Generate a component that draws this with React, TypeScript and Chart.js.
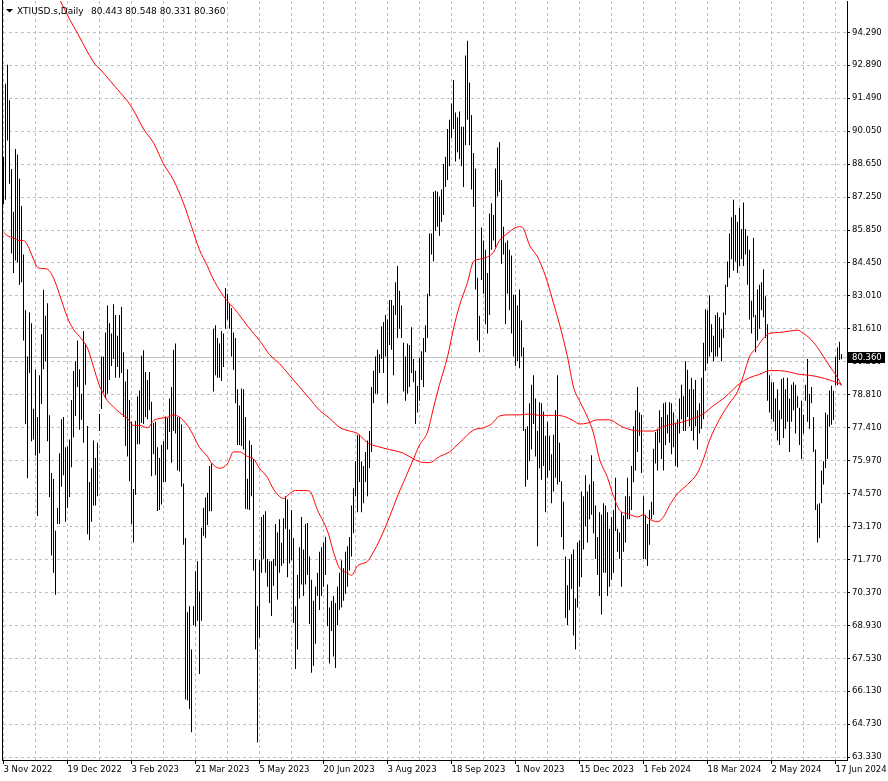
import React, { useEffect, useRef } from 'react';
import { Chart, registerables } from 'chart.js';

Chart.register(...registerables);

const SYMBOL_TITLE = 'XTIUSD.s,Daily';
const OHLC_TEXT = '80.443 80.548 80.331 80.360';
const LAST_PRICE = 80.36;
const LAST_PRICE_LABEL = '80.360';

const DATE_LABELS = ['3 Nov 2022', '19 Dec 2022', '3 Feb 2023', '21 Mar 2023', '5 May 2023', '20 Jun 2023', '3 Aug 2023', '18 Sep 2023', '1 Nov 2023', '15 Dec 2023', '1 Feb 2024', '18 Mar 2024', '2 May 2024', '17 Jun 2024'];
const BARS_PER_DATE_LABEL = 32;
const BARS_PER_GRID = 16;

const PRICE_LABELS = ['94.290', '92.890', '91.490', '90.050', '88.650', '87.250', '85.850', '84.450', '83.010', '81.610', '80.210', '78.810', '77.410', '75.970', '74.570', '73.170', '71.770', '70.370', '68.930', '67.530', '66.130', '64.730', '63.330'];
const Y_MIN = 63.21;
const Y_MAX = 95.627;
const X_MIN = -0.25;
const X_MAX = 421.75;

const HIGHS = [
  88.97, 92.09, 92.9, 91.39, 88.45, 86.63, 89.31, 89.07, 88.04, 86.87,
  84.8, 82.42, 80.44, 82.32, 81.86, 78.21, 79.88, 77.86, 79.64, 81.39,
  83.29, 82.18, 82.72, 77.93, 75.47, 75.22, 73.0, 73.98, 76.31, 77.76,
  77.86, 76.57, 76.6, 76.9, 78.59, 79.82, 80.24, 81.13, 79.9, 78.85,
  81.53, 81.0, 77.48, 75.08, 75.67, 76.86, 76.11, 76.76, 77.99, 80.44,
  80.44, 81.47, 82.62, 81.86, 81.43, 82.68, 82.22, 81.33, 82.22, 82.56,
  80.63, 79.38, 79.9, 78.59, 77.66, 74.78, 77.7, 78.73, 78.99, 80.48,
  80.71, 79.78, 79.44, 79.78, 78.51, 77.6, 77.66, 76.57, 76.11, 76.66,
  76.82, 77.88, 77.82, 78.65, 79.14, 80.73, 81.0, 77.86, 77.86, 77.54,
  75.02, 72.69, 69.52, 69.78, 67.93, 69.78, 71.27, 71.7, 70.41, 73.13,
  73.98, 74.42, 74.62, 75.77, 75.87, 81.63, 81.78, 81.23, 81.0, 81.53,
  81.43, 83.37, 83.12, 82.72, 82.52, 81.47, 81.23, 79.04, 78.35, 79.08,
  79.04, 77.86, 75.22, 76.86, 76.66, 76.07, 71.8, 69.78, 71.74, 73.59,
  73.69, 73.83, 71.8, 71.7, 71.7, 71.8, 73.29, 72.93, 73.49, 72.5,
  73.53, 74.48, 74.34, 73.05, 73.89, 72.69, 69.78, 71.11, 72.3, 73.59,
  72.2, 73.29, 73.33, 71.9, 70.91, 70.01, 70.61, 71.21, 72.1, 72.3,
  72.5, 72.73, 70.71, 69.72, 70.01, 70.21, 69.92, 70.61, 71.21, 71.74,
  71.4, 72.1, 72.34, 72.73, 74.08, 74.82, 75.97, 77.1, 77.1, 75.97,
  75.77, 76.37, 76.86, 77.26, 79.14, 79.84, 80.44, 80.73, 80.54, 81.73,
  81.92, 82.22, 82.02, 82.86, 82.86, 82.62, 83.61, 84.31, 83.25, 82.62,
  81.03, 80.44, 81.0, 80.93, 81.69, 80.34, 79.84, 79.18, 80.38, 80.67,
  81.23, 81.78, 83.12, 85.7, 85.7, 87.48, 87.52, 87.48, 87.28, 87.58,
  88.67, 88.97, 90.16, 90.56, 91.25, 92.25, 90.86, 90.66, 90.91, 90.26,
  90.26, 93.3, 93.93, 92.15, 90.76, 89.13, 88.47, 83.81, 82.18, 85.95,
  85.4, 85.0, 84.01, 86.55, 86.99, 86.49, 88.47, 89.37, 89.61, 87.98,
  85.99, 85.3, 85.4, 85.0, 84.76, 83.08, 83.08, 82.62, 83.31, 81.98,
  80.83, 77.36, 77.46, 78.45, 79.24, 79.64, 78.65, 77.26, 78.49, 78.45,
  78.09, 77.06, 77.66, 77.06, 76.27, 77.1, 78.15, 79.64, 76.76, 75.12,
  74.24, 71.9, 70.67, 71.8, 72.0, 72.2, 70.11, 72.5, 72.6, 74.68,
  74.48, 75.37, 74.68, 74.98, 76.23, 75.12, 74.08, 72.73, 73.79, 73.69,
  74.18, 74.08, 73.79, 73.09, 73.59, 73.89, 75.27, 73.09, 72.93, 73.79,
  73.65, 74.48, 75.27, 74.48, 75.77, 77.46, 78.15, 79.14, 78.05, 77.96,
  74.48, 73.69, 73.29, 73.89, 74.24, 76.5, 77.22, 77.36, 78.15, 77.86,
  78.45, 78.49, 77.96, 78.49, 78.45, 78.05, 77.56, 77.76, 78.65, 79.24,
  78.75, 80.24, 79.88, 79.04, 79.54, 79.04, 79.44, 78.15, 78.45, 79.54,
  81.03, 82.46, 82.42, 83.06, 81.82, 81.33, 82.22, 82.32, 82.12, 81.63,
  82.32, 83.51, 84.5, 85.7, 86.39, 87.14, 86.49, 86.19, 86.79, 85.89,
  87.02, 85.89, 85.6, 85.0, 82.82, 85.5, 82.22, 83.31, 83.51, 83.61,
  84.17, 83.02, 81.82, 79.64, 79.34, 79.34, 78.65, 79.04, 78.15, 79.48,
  79.54, 79.04, 79.54, 78.65, 79.24, 79.34, 79.24, 78.75, 78.25, 78.55,
  77.96, 79.24, 80.34, 78.85, 79.14, 77.86, 76.47, 74.12, 74.18, 75.57,
  75.97, 78.05, 77.96, 78.99, 79.19, 78.98, 80.43, 80.83, 81.07, 80.55
];

const LOWS = [
  86.95, 87.14, 89.67, 87.82, 84.84, 84.01, 84.54, 84.46, 83.51, 83.61,
  81.13, 77.56, 75.24, 79.74, 76.82, 76.9, 76.21, 73.63, 76.31, 78.41,
  79.9, 80.24, 76.82, 74.44, 71.94, 71.21, 70.27, 73.29, 73.29, 74.88,
  75.37, 73.39, 73.98, 74.44, 75.71, 77.0, 77.9, 79.14, 77.32, 77.74,
  76.76, 79.24, 72.85, 72.6, 73.39, 74.08, 74.08, 74.48, 77.26, 78.2,
  78.91, 78.65, 78.85, 79.44, 80.04, 80.34, 79.54, 80.0, 79.54, 79.74,
  77.86, 76.62, 76.17, 75.12, 73.29, 72.5, 74.54, 76.7, 76.7, 77.6,
  77.56, 77.86, 77.76, 78.15, 75.33, 76.27, 75.37, 73.85, 73.89, 74.12,
  75.08, 75.08, 76.47, 77.22, 75.91, 77.26, 77.16, 75.57, 75.53, 74.88,
  72.4, 65.79, 65.75, 65.39, 64.4, 68.96, 68.92, 69.16, 66.88, 69.16,
  72.79, 72.69, 73.25, 73.83, 73.83, 78.95, 79.64, 79.54, 79.54, 79.4,
  80.0, 81.63, 82.02, 81.63, 80.44, 79.88, 78.45, 76.66, 76.66, 76.62,
  76.47, 73.94, 73.92, 73.89, 74.48, 71.3, 67.93, 63.96, 68.43, 71.21,
  71.8, 71.21, 70.61, 69.92, 69.36, 70.65, 71.5, 70.07, 71.21, 71.5,
  71.6, 73.09, 71.01, 71.6, 71.74, 69.06, 67.1, 67.93, 70.11, 70.71,
  70.21, 70.71, 71.11, 69.02, 66.94, 67.24, 68.17, 70.21, 69.62, 70.21,
  70.61, 71.11, 68.92, 67.33, 68.72, 67.63, 67.14, 68.96, 69.62, 69.72,
  70.01, 70.31, 70.61, 71.3, 71.9, 72.89, 74.48, 73.79, 75.08, 73.79,
  74.18, 75.08, 74.48, 75.67, 76.37, 78.45, 78.85, 78.85, 79.74, 80.34,
  79.74, 80.44, 78.45, 80.93, 80.73, 79.64, 82.22, 81.23, 81.63, 81.23,
  78.95, 78.55, 78.85, 79.14, 79.74, 79.34, 77.56, 78.05, 78.55, 79.44,
  79.14, 80.63, 81.23, 83.02, 84.8, 84.5, 85.8, 85.99, 85.6, 86.19,
  86.49, 87.68, 87.98, 88.57, 89.76, 90.16, 88.77, 89.17, 88.87, 88.57,
  87.68, 89.47, 90.56, 89.47, 87.58, 86.83, 83.31, 81.13, 80.63, 83.71,
  83.12, 81.82, 81.43, 82.22, 85.0, 85.4, 85.1, 87.28, 87.48, 84.4,
  84.8, 81.82, 83.12, 82.42, 81.43, 80.44, 80.04, 80.24, 79.94, 80.44,
  77.26, 74.88, 75.18, 75.97, 76.47, 77.56, 76.17, 72.34, 75.67, 75.18,
  75.77, 73.79, 75.27, 75.57, 74.18, 74.68, 75.27, 74.98, 75.08, 72.73,
  72.2, 69.28, 68.98, 69.62, 70.51, 68.53, 67.93, 69.72, 70.61, 71.01,
  72.2, 73.19, 72.5, 73.49, 73.69, 72.89, 71.8, 71.11, 70.21, 69.42,
  71.21, 71.21, 70.21, 70.61, 70.91, 71.21, 72.99, 72.1, 71.8, 70.61,
  72.1, 72.5, 73.49, 73.49, 73.89, 75.07, 75.57, 76.37, 77.06, 75.47,
  71.8, 71.8, 71.5, 72.4, 73.49, 73.69, 75.87, 75.57, 76.76, 76.07,
  75.57, 76.66, 77.16, 76.76, 76.27, 76.57, 75.77, 75.71, 77.16, 77.76,
  77.26, 77.26, 77.86, 77.46, 77.26, 76.86, 77.46, 76.47, 77.16, 77.36,
  77.76, 79.84, 80.14, 80.44, 80.63, 80.24, 80.44, 80.44, 80.83, 80.24,
  81.23, 82.22, 83.41, 83.81, 84.6, 84.11, 84.5, 84.01, 84.31, 84.6,
  84.31, 84.8, 83.51, 82.02, 81.43, 82.12, 80.63, 81.13, 81.63, 82.42,
  82.12, 81.23, 78.55, 78.05, 77.76, 77.66, 77.26, 76.86, 76.66, 77.76,
  76.96, 77.36, 77.66, 76.37, 77.66, 78.15, 77.16, 78.25, 76.66, 76.07,
  77.16, 78.55, 77.66, 77.36, 78.45, 76.37, 73.89, 72.5, 72.69, 74.18,
  74.98, 75.67, 76.07, 77.44, 77.53, 77.73, 79.22, 79.22, 80.29, 80.33
];

const MA_FAST_BARS = [0, 2, 5, 8, 10, 12, 15, 17, 20, 22, 25, 28, 32, 35, 38, 42, 45, 48, 52, 55, 58, 62, 65, 68, 72, 75, 78, 82, 85, 88, 92, 95, 98, 102, 104, 108, 112, 115, 118, 122, 125, 128, 132, 135, 140, 143, 146, 150, 153, 157, 162, 165, 168, 172, 174, 177, 182, 185, 188, 193, 197, 200, 205, 208, 212, 215, 218, 222, 225, 228, 232, 235, 238, 242, 245, 248, 252, 255, 258, 260, 263, 267, 270, 272, 275, 278, 282, 285, 288, 292, 295, 298, 302, 305, 308, 312, 315, 317, 320, 323, 327, 330, 333, 337, 342, 347, 350, 353, 358, 363, 367, 370, 373, 377, 380, 383, 388, 393, 397, 400, 403, 407, 410, 413, 417, 419];
const MA_FAST_VALUES = [85.75, 85.6, 85.5, 85.4, 85.4, 85.2, 84.6, 84.25, 84.2, 84.17, 83.8, 83.1, 82.1, 81.6, 81.3, 80.8, 80.0, 79.2, 78.55, 78.29, 78.05, 77.8, 77.5, 77.5, 77.4, 77.7, 77.8, 77.85, 77.95, 77.85, 77.5, 77.06, 76.56, 76.17, 75.9, 75.67, 75.87, 76.37, 76.37, 76.17, 76.07, 75.67, 75.27, 74.78, 74.38, 74.58, 74.72, 74.72, 74.7, 73.88, 72.99, 72.1, 71.4, 71.2, 71.1, 71.5, 71.7, 72.1, 72.59, 73.59, 74.48, 75.07, 76.07, 76.66, 77.22, 78.25, 79.24, 80.43, 81.63, 82.62, 83.61, 84.5, 84.6, 84.7, 84.9, 85.4, 85.7, 85.9, 85.99, 85.9, 85.2, 84.7, 84.11, 83.61, 82.72, 81.82, 80.43, 79.14, 78.55, 77.85, 77.16, 76.07, 75.27, 74.48, 73.88, 73.73, 73.63, 73.59, 73.69, 73.49, 73.39, 73.59, 74.08, 74.58, 74.98, 75.47, 76.07, 76.86, 77.76, 78.45, 78.95, 79.64, 80.43, 80.87, 81.23, 81.43, 81.47, 81.53, 81.57, 81.43, 81.23, 80.83, 80.43, 80.04, 79.54, 79.2];

const MA_SLOW_BARS = [0, 10, 20, 28, 33, 37, 42, 46, 48, 53, 57, 62, 65, 70, 75, 80, 85, 90, 94, 98, 102, 104, 110, 117, 123, 128, 133, 138, 143, 148, 153, 158, 163, 168, 173, 177, 182, 187, 193, 200, 205, 209, 213, 218, 223, 228, 235, 240, 244, 248, 253, 258, 263, 268, 275, 280, 285, 288, 292, 297, 303, 308, 314, 320, 325, 330, 335, 340, 345, 350, 355, 360, 365, 368, 373, 378, 383, 388, 393, 398, 403, 408, 413, 417, 419];
const MA_SLOW_VALUES = [100.0, 98.4, 96.9, 95.7, 94.85, 94.25, 93.45, 92.9, 92.74, 92.25, 91.85, 91.35, 90.96, 90.16, 89.57, 88.67, 87.98, 86.99, 85.99, 85.0, 84.3, 83.9, 83.02, 82.32, 81.63, 81.13, 80.53, 80.14, 79.64, 79.14, 78.65, 78.15, 77.81, 77.42, 77.26, 77.16, 76.76, 76.6, 76.47, 76.31, 76.07, 75.93, 75.91, 76.17, 76.37, 76.76, 77.3, 77.4, 77.56, 77.9, 77.95, 77.95, 77.99, 77.93, 77.93, 77.89, 77.7, 77.56, 77.6, 77.74, 77.74, 77.5, 77.3, 77.26, 77.26, 77.46, 77.56, 77.66, 77.8, 78.0, 78.35, 78.65, 79.05, 79.28, 79.54, 79.68, 79.84, 79.84, 79.78, 79.68, 79.64, 79.56, 79.44, 79.32, 79.24];

const FONT_FAMILY = '"DejaVu Sans", sans-serif';
const FONT_SIZE = 8.5;
const GRID_COLOR = '#c0c0c0';
const MA_COLOR = '#ff0000';

export default function App() {
  const canvasRef = useRef<HTMLCanvasElement | null>(null);

  useEffect(() => {
    document.body.style.margin = '0';
    const canvas = canvasRef.current;
    if (!canvas) return;

    const nLabels = PRICE_LABELS.length;
    const topVal = parseFloat(PRICE_LABELS[0]);
    const botVal = parseFloat(PRICE_LABELS[nLabels - 1]);
    const step = (topVal - botVal) / (nLabels - 1);
    const lastDateBar = (DATE_LABELS.length - 1) * BARS_PER_DATE_LABEL;

    const overlay = {
      id: 'mt4Overlay',
      beforeDatasetsDraw(chart: any) {
        const { ctx, chartArea } = chart;
        const y = Math.round(chart.scales.y.getPixelForValue(LAST_PRICE)) - 0.5;
        ctx.save();
        ctx.strokeStyle = GRID_COLOR;
        ctx.lineWidth = 1;
        ctx.beginPath();
        ctx.moveTo(chartArea.left, y);
        ctx.lineTo(chartArea.right, y);
        ctx.stroke();
        ctx.restore();
      },
      afterDraw(chart: any) {
        const { ctx, chartArea } = chart;
        ctx.save();
        ctx.strokeStyle = '#000';
        ctx.lineWidth = 1;
        ctx.beginPath();
        ctx.moveTo(chartArea.left - 0.5, 0);
        ctx.lineTo(chartArea.left - 0.5, chartArea.bottom + 1);
        ctx.stroke();

        const py = Math.round(chart.scales.y.getPixelForValue(LAST_PRICE)) - 1;
        ctx.fillStyle = '#000';
        ctx.fillRect(chartArea.right + 1, py - 5, 37, 11);
        ctx.fillStyle = '#fff';
        ctx.font = `${FONT_SIZE}px ${FONT_FAMILY}`;
        ctx.textAlign = 'left';
        ctx.textBaseline = 'middle';
        ctx.fillText(LAST_PRICE_LABEL, chartArea.right + 5, py + 0.5);

        ctx.fillStyle = '#000';
        ctx.beginPath();
        ctx.moveTo(6, 9);
        ctx.lineTo(13, 9);
        ctx.lineTo(9.5, 12.5);
        ctx.closePath();
        ctx.fill();
        ctx.font = `9px ${FONT_FAMILY}`;
        ctx.textBaseline = 'alphabetic';
        ctx.fillText(SYMBOL_TITLE, 17, 14);
        ctx.fillText(OHLC_TEXT, 91, 14);
        ctx.restore();
      }
    };

    const font = { family: FONT_FAMILY, size: FONT_SIZE };

    const chart = new Chart(canvas, {
      type: 'bar',
      data: {
        datasets: [
          {
            type: 'line',
            label: 'MA fast',
            data: MA_FAST_BARS.map((b, k) => ({ x: b, y: MA_FAST_VALUES[k] })),
            borderColor: MA_COLOR,
            borderWidth: 1,
            pointRadius: 0,
            cubicInterpolationMode: 'monotone',
            order: 0
          } as any,
          {
            type: 'line',
            label: 'MA slow',
            data: MA_SLOW_BARS.map((b, k) => ({ x: b, y: MA_SLOW_VALUES[k] })),
            borderColor: MA_COLOR,
            borderWidth: 1,
            pointRadius: 0,
            cubicInterpolationMode: 'monotone',
            order: 1
          } as any,
          {
            type: 'bar',
            label: 'XTIUSD.s',
            data: HIGHS.map((h, i) => ({ x: i, y: [LOWS[i], h] })),
            backgroundColor: '#000',
            borderWidth: 0,
            inflateAmount: 0,
            barThickness: 1,
            order: 2
          } as any
        ]
      },
      options: {
        animation: false,
        responsive: false,
        events: [],
        layout: { padding: { left: 3, top: 1, right: 0, bottom: 0 } },
        plugins: {
          legend: { display: false },
          tooltip: { enabled: false },
          title: { display: false }
        },
        scales: {
          x: {
            type: 'linear',
            min: X_MIN,
            max: X_MAX,
            offset: false,
            grid: {
              offset: false,
              color: GRID_COLOR,
              lineWidth: 1,
              drawTicks: true,
              tickLength: 4,
              tickWidth: 1,
              tickBorderDash: [],
              tickColor: (c: any) => (c.tick && c.tick.value % BARS_PER_DATE_LABEL === 0 ? '#000' : 'rgba(0,0,0,0)')
            },
            border: { display: true, color: '#000', width: 1, dash: [3, 3] },
            ticks: {
              autoSkip: false,
              maxRotation: 0,
              minRotation: 0,
              align: 'start',
              padding: 1,
              color: '#000',
              font,
              callback: (value: any) => {
                const v = Number(value);
                return v % BARS_PER_DATE_LABEL === 0 ? DATE_LABELS[v / BARS_PER_DATE_LABEL] : '';
              }
            },
            afterBuildTicks: (scale: any) => {
              const t: any[] = [];
              for (let v = 0; v <= lastDateBar; v += BARS_PER_GRID) t.push({ value: v });
              scale.ticks = t;
            },
            afterFit: (scale: any) => {
              scale.height = 21;
              scale.paddingLeft = 0;
              scale.paddingRight = 0;
            }
          } as any,
          y: {
            type: 'linear',
            position: 'right',
            min: Y_MIN,
            max: Y_MAX,
            beginAtZero: false,
            grid: {
              color: GRID_COLOR,
              lineWidth: 1,
              drawTicks: true,
              tickLength: 3,
              tickBorderDash: [],
              tickColor: '#000'
            },
            border: { display: true, color: '#000', width: 1, dash: [3, 3] },
            ticks: {
              autoSkip: false,
              padding: 2,
              color: '#000',
              font,
              callback: (_v: any, index: number) => PRICE_LABELS[nLabels - 1 - index]
            },
            afterBuildTicks: (scale: any) => {
              scale.ticks = PRICE_LABELS.map((_, k) => ({ value: botVal + k * step }));
            },
            afterFit: (scale: any) => {
              scale.width = 41;
              scale.paddingTop = 0;
              scale.paddingBottom = 0;
            }
          } as any
        }
      } as any,
      plugins: [overlay]
    });

    return () => {
      chart.destroy();
    };
  }, []);

  return <canvas ref={canvasRef} width={888} height={781} style={{ display: 'block' }} />;
}
